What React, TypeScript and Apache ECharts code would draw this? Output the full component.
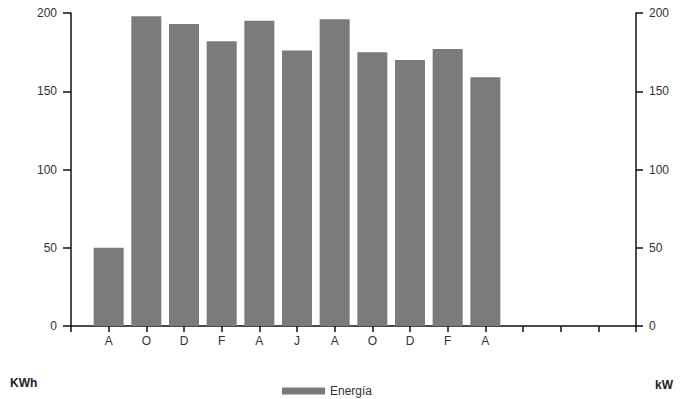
import React, { useEffect, useRef } from "react";
import * as echarts from "echarts";

const categories = ["", "A", "O", "D", "F", "A", "J", "A", "O", "D", "F", "A", "", "", "", ""];
const energyValues: (number | null)[] = [null, 50, 198, 193, 182, 195, 176, 196, 175, 170, 177, 159, null, null, null, null];
const seriesName = "Energía";
const leftUnit = "KWh";
const rightUnit = "kW";

export default function App() {
  const ref = useRef<HTMLDivElement>(null);
  useEffect(() => {
    if (!ref.current) return;
    const chart = echarts.init(ref.current, undefined, { renderer: "svg" });
    const font = "Liberation Sans, Arial, sans-serif";
    const axisLine = { show: true, lineStyle: { color: "#111", width: 1.5 } };
    const tickStyle = { lineStyle: { color: "#111", width: 1.5 } };
    const labelStyle = { color: "#333", fontSize: 12, fontFamily: font };
    chart.setOption({
      animation: false,
      backgroundColor: "#fff",
      grid: { left: 71, right: 59, top: 13, bottom: 73, containLabel: false },
      legend: {
        data: [seriesName],
        left: 277,
        top: 380,
        itemWidth: 43,
        itemHeight: 7,
        itemGap: 8,
        icon: "rect",
        textStyle: { color: "#333", fontSize: 12, fontFamily: font },
      },
      xAxis: {
        type: "category",
        data: categories,
        boundaryGap: false,
        axisLine,
        axisTick: { show: true, interval: 0, length: 6, ...tickStyle },
        axisLabel: { interval: 0, margin: 9, ...labelStyle },
        splitLine: { show: false },
      },
      yAxis: [
        {
          type: "value",
          min: 0,
          max: 200,
          interval: 50,
          position: "left",
          axisLine,
          axisTick: { show: true, length: 8, ...tickStyle },
          axisLabel: { margin: 14, ...labelStyle },
          splitLine: { show: false },
        },
        {
          type: "value",
          min: 0,
          max: 200,
          interval: 50,
          position: "right",
          axisLine,
          axisTick: { show: true, length: 7, ...tickStyle },
          axisLabel: { margin: 13, ...labelStyle },
          splitLine: { show: false },
        },
      ],
      series: [
        {
          name: seriesName,
          type: "bar",
          data: energyValues,
          barWidth: 30,
          itemStyle: { color: "#7b7b7b" },
        },
      ],
      graphic: [
        {
          type: "text",
          left: 10,
          top: 377,
          style: { text: leftUnit, fill: "#222", fontSize: 12, fontFamily: font, fontWeight: "bold" },
        },
        {
          type: "text",
          left: 655,
          top: 379,
          style: { text: rightUnit, fill: "#222", fontSize: 12, fontFamily: font, fontWeight: "bold" },
        },
      ],
    });
    return () => chart.dispose();
  }, []);
  return <div ref={ref} style={{ width: 695, height: 399, position: "absolute", left: 0, top: 0 }} />;
}
